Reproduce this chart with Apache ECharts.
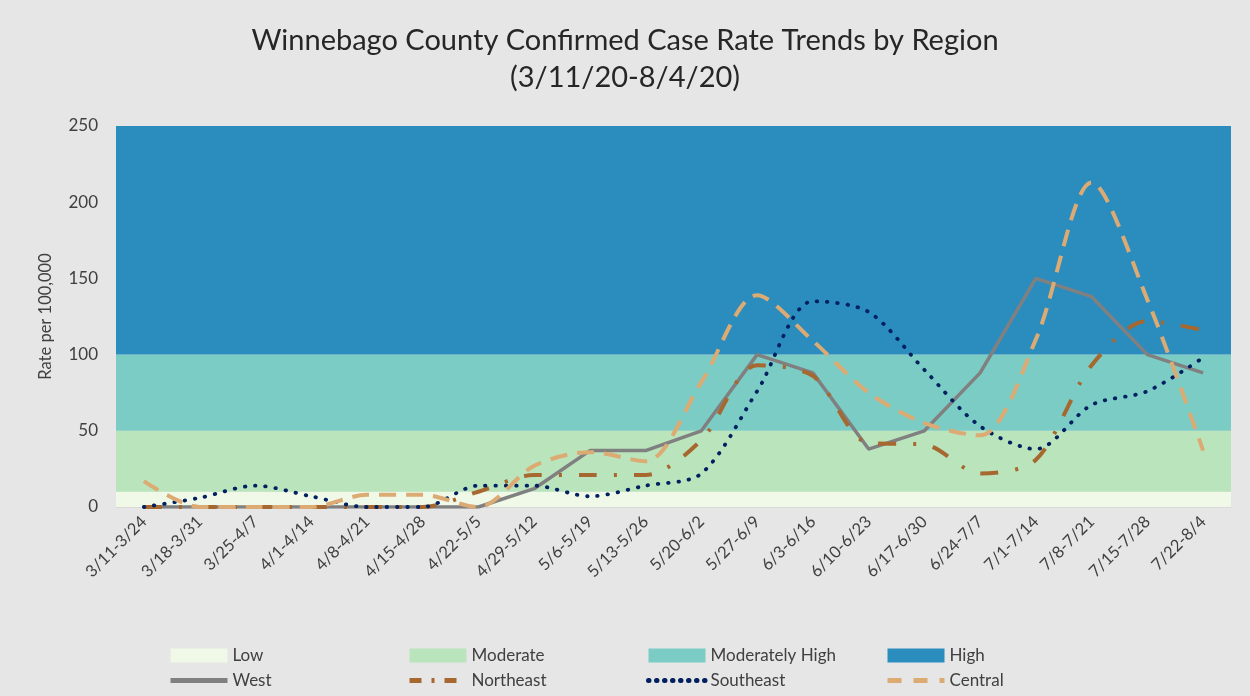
<!DOCTYPE html>
<html>
<head>
<meta charset="utf-8">
<script src="https://cdn.jsdelivr.net/npm/echarts@6/dist/echarts.min.js"></script>
<style>
  html, body { margin: 0; padding: 0; background: #e6e6e6; }
  #chart { width: 1250px; height: 696px; }
</style>
</head>
<body>
<div id="chart"></div>
<script>
    // weekly windows
    var categories = ['3/11-3/24', '3/18-3/31', '3/25-4/7', '4/1-4/14', '4/8-4/21', '4/15-4/28',
        '4/22-5/5', '4/29-5/12', '5/6-5/19', '5/13-5/26', '5/20-6/2', '5/27-6/9', '6/3-6/16',
        '6/10-6/23', '6/17-6/30', '6/24-7/7', '7/1-7/14', '7/8-7/21', '7/15-7/28', '7/22-8/4'];

    var west = [0, 0, 0, 0, 0, 0, 0, 12, 37, 37, 50, 100, 88, 38, 50, 88, 150, 138, 100, 88];
    var northeast = [0, 0, 0, 0, 0, 0, 10, 21, 21, 21, 44, 93, 86, 42, 41, 22, 31, 93, 122, 116];
    var southeast = [0, 6, 14, 7, 0, 0, 14, 14, 7, 14, 22, 76, 135, 128, 90, 53, 38, 67, 76, 98];
    var central = [17, 0, 0, 0, 8, 8, 0, 27, 36, 30, 82, 139, 109, 75, 55, 47, 110, 213, 136, 37];

    // risk bands (lower / upper limits)
    var bandNames = ['Low', 'Moderate', 'Moderately High', 'High'];
    var bandFrom = [0, 10, 50, 100];
    var bandTo = [10, 50, 100, 250];

    var bandColors = ['#f0f9e8', '#bae4bc', '#7bccc4', '#2b8cbe'];
    var FONT = 'Lato, "Open Sans", sans-serif';

    var series = [];
    bandNames.forEach(function (name, i) {
        series.push({
            name: name,
            type: 'line',
            data: [],
            itemStyle: { color: bandColors[i] },
            markArea: {
                silent: true,
                itemStyle: { color: bandColors[i], opacity: 1 },
                data: [[{ yAxis: bandFrom[i] }, { yAxis: bandTo[i] }]]
            }
        });
    });

    function lineSeries(name, data, color, type, width, smooth, cap) {
        return {
            name: name,
            type: 'line',
            data: data,
            smooth: smooth,
            symbol: 'none',
            z: 5,
            itemStyle: { color: color },
            lineStyle: { color: color, width: width, type: type, cap: cap || 'butt' }
        };
    }
    series.push(lineSeries('West', west, '#808080', 'solid', 3.5, false));
    series.push(lineSeries('Northeast', northeast, '#a6682f', [18, 17, 3, 17], 4, 0.3));
    series.push(lineSeries('Southeast', southeast, '#002060', [0.5, 9.8], 3.8, 0.3, 'round'));
    series.push(lineSeries('Central', central, '#dcaa73', [17, 10], 4, 0.3));

    var lineNames = ['West', 'Northeast', 'Southeast', 'Central'];
    var legendDash = ['solid', [12, 10, 3, 10], [0.5, 7.5], [14, 12]];
    var colLeft = [163, 402, 641, 880];
    var legends = colLeft.map(function (left, i) {
        return {
            orient: 'vertical',
            left: left,
            top: 642,
            itemGap: 8,
            itemWidth: 57,
            itemHeight: 14,
            textStyle: { fontFamily: FONT, fontSize: 17, color: '#404040', padding: [0, 0, 0, 0] },
            selectedMode: false,
            data: [
                { name: bandNames[i], icon: 'rect', itemStyle: { color: bandColors[i] } },
                {
                    name: lineNames[i],
                    itemStyle: { opacity: 0 },
                    lineStyle: { width: 5, type: legendDash[i] }
                }
            ]
        };
    });

    var myChart = echarts.init(document.getElementById('chart'));
    var chartOption = {
        backgroundColor: '#e6e6e6',
        animation: false,
        title: {
            text: 'Winnebago County Confirmed Case Rate Trends by Region\n(3/11/20-8/4/20)',
            left: 'center',
            top: 17,
            textStyle: {
                fontFamily: FONT,
                fontWeight: 'normal',
                fontSize: 29,
                lineHeight: 37,
                color: '#262626'
            }
        },
        legend: legends,
        grid: {
            left: 116,
            right: 19,
            top: 126,
            bottom: 189
        },
        xAxis: {
            type: 'category',
            boundaryGap: true,
            data: categories,
            axisLine: { lineStyle: { color: '#d9d9d9' } },
            axisTick: { show: false },
            axisLabel: {
                rotate: 45,
                interval: 0,
                margin: 12,
                fontFamily: FONT,
                fontSize: 16.5,
                color: '#404040'
            }
        },
        yAxis: {
            type: 'value',
            min: 0,
            max: 250,
            interval: 50,
            name: 'Rate per 100,000',
            nameLocation: 'middle',
            nameGap: 62,
            nameTextStyle: { fontFamily: FONT, fontSize: 16.5, color: '#404040' },
            splitLine: { show: false },
            axisLine: { show: false },
            axisTick: { show: false },
            axisLabel: {
                margin: 18,
                fontFamily: FONT,
                fontSize: 17,
                color: '#404040'
            }
        },
        series: series
    };
    myChart.setOption(chartOption);
</script>
</body>
</html>
